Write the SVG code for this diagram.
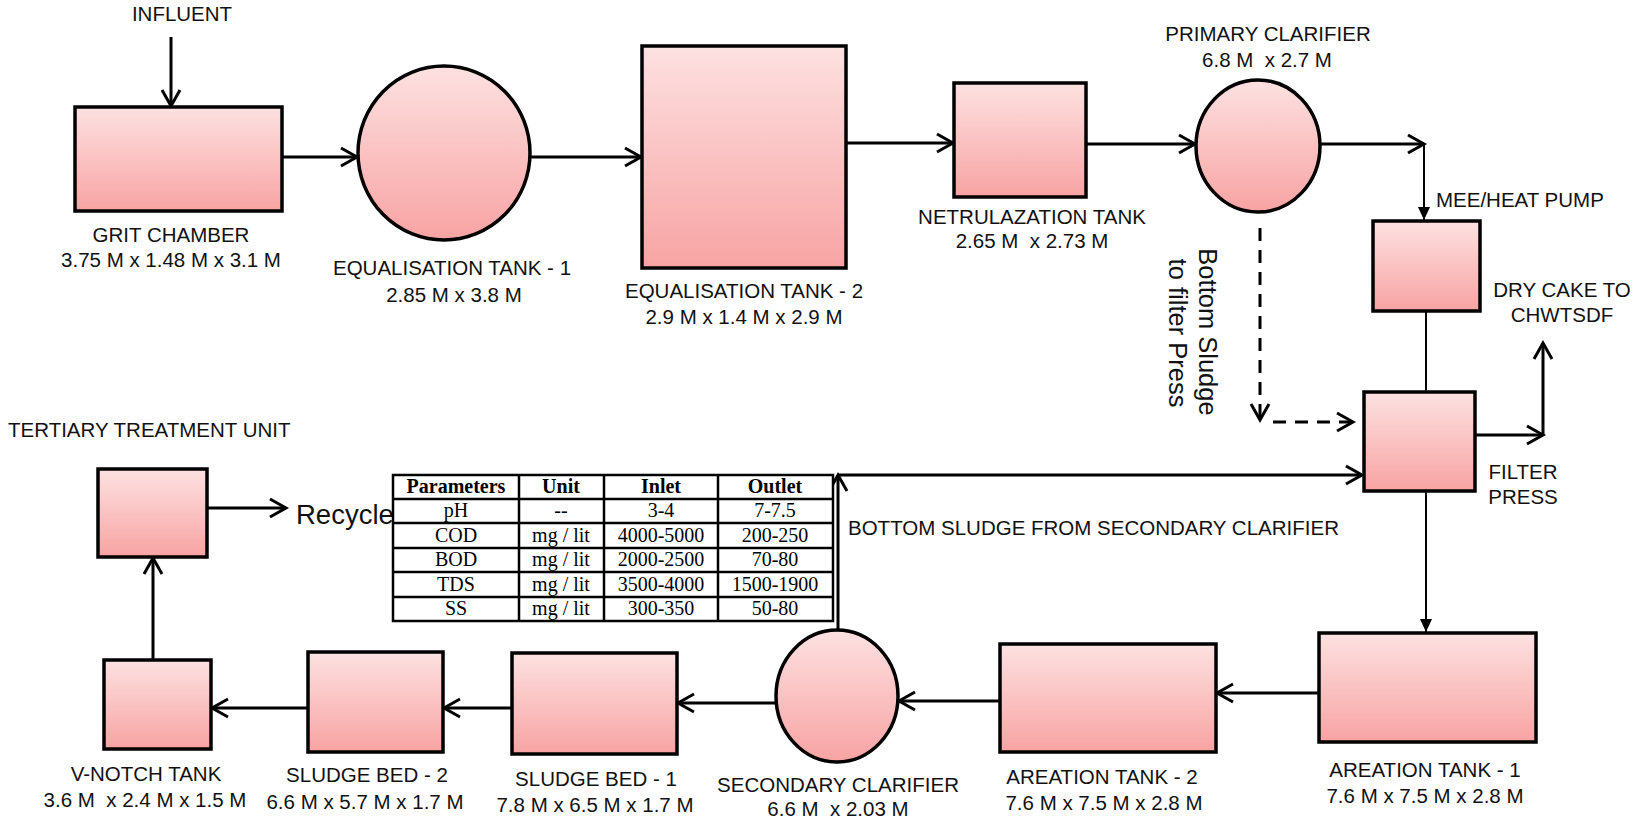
<svg xmlns="http://www.w3.org/2000/svg" width="1634" height="820" viewBox="0 0 1634 820">
<defs>
<linearGradient id="pink" x1="0" y1="0" x2="0" y2="1">
<stop offset="0" stop-color="#fde1e1"/>
<stop offset="1" stop-color="#f8a3a3"/>
</linearGradient>
<marker id="open" markerUnits="userSpaceOnUse" markerWidth="26" markerHeight="26" viewBox="-20 -13 26 26" refX="0" refY="0" orient="auto">
<path d="M-16,-9 L0,0 L-16,9" fill="none" stroke="#000" stroke-width="3"/>
</marker>
<marker id="solid" markerUnits="userSpaceOnUse" markerWidth="20" markerHeight="20" viewBox="-16 -10 20 20" refX="0" refY="0" orient="auto">
<path d="M-13,-6 L0,0 L-13,6 Z" fill="#000"/>
</marker>
<style>
.box{fill:url(#pink);stroke:#000;stroke-width:3.5}
.lbl{font-family:"Liberation Sans",Arial,sans-serif;font-size:20.5px;fill:#111;text-anchor:middle}
.ls{text-anchor:start}
.c{fill:none;stroke:#000;stroke-width:3}
.ca{fill:none;stroke:#000;stroke-width:3;marker-end:url(#open)}
.thin{fill:none;stroke:#000;stroke-width:2}
.dash{fill:none;stroke:#000;stroke-width:3;stroke-dasharray:13 9;marker-end:url(#open)}
.tb{fill:none;stroke:#000;stroke-width:2.5}
.th{font-family:"Liberation Serif","Times New Roman",serif;font-size:20px;font-weight:bold;text-anchor:middle;fill:#000}
.td{font-family:"Liberation Serif","Times New Roman",serif;font-size:20px;text-anchor:middle;fill:#000}
</style>
</defs>
<rect width="1634" height="820" fill="#fff"/>

<g id="connectors">
<path class="ca" d="M171,37 L171,106"/>
<path class="ca" d="M282,157 L357,157"/>
<path class="ca" d="M530,157 L641,157"/>
<path class="ca" d="M846,143 L953,143"/>
<path class="ca" d="M1086,144 L1195,144"/>
<path class="ca" d="M1320,144 L1424,144"/>
<path class="thin" d="M1424,144 L1424,220" marker-end="url(#solid)"/>
<path class="thin" d="M1426,311 L1426,392"/>
<path class="thin" d="M1426,491 L1426,632" marker-end="url(#solid)"/>
<path class="ca" d="M1475,435 L1543,435"/>
<path class="ca" d="M1543,435 L1543,343"/>
<path class="dash" d="M1260,228 L1260,420"/>
<path class="dash" d="M1273,422 L1353,422"/>
<path class="ca" d="M838,630 L838,475"/>
<path class="ca" d="M838,475 L1362,475"/>
<path class="ca" d="M1319,693 L1217,693"/>
<path class="ca" d="M1000,701 L899,701"/>
<path class="ca" d="M776,703 L678,703"/>
<path class="ca" d="M512,708 L444,708"/>
<path class="ca" d="M308,708 L212,708"/>
<path class="ca" d="M153,660 L153,558"/>
<path class="ca" d="M207,508 L286,508"/>
</g>

<g id="influent"><text class="lbl" x="182" y="21">INFLUENT</text></g>

<g id="grit-chamber">
<rect class="box" x="75" y="107" width="207" height="104"/>
<text class="lbl" x="171" y="242">GRIT CHAMBER</text>
<text class="lbl" x="171" y="267">3.75 M x 1.48 M x 3.1 M</text>
</g>

<g id="equalisation-1">
<ellipse class="box" cx="444" cy="153" rx="86" ry="87"/>
<text class="lbl" x="452" y="275">EQUALISATION TANK - 1</text>
<text class="lbl" x="454" y="302">2.85 M x 3.8 M</text>
</g>

<g id="equalisation-2">
<rect class="box" x="642" y="46" width="204" height="222"/>
<text class="lbl" x="744" y="298">EQUALISATION TANK - 2</text>
<text class="lbl" x="744" y="324">2.9 M x 1.4 M x 2.9 M</text>
</g>

<g id="neutralization">
<rect class="box" x="954" y="83" width="132" height="114"/>
<text class="lbl" x="1032" y="224">NETRULAZATION TANK</text>
<text class="lbl" x="1032" y="248">2.65 M&#160; x 2.73 M</text>
</g>

<g id="primary-clarifier">
<ellipse class="box" cx="1258" cy="146" rx="62" ry="66"/>
<text class="lbl" x="1268" y="41">PRIMARY CLARIFIER</text>
<text class="lbl" x="1267" y="67">6.8 M&#160; x 2.7 M</text>
</g>

<g id="mee-heat-pump">
<rect class="box" x="1373" y="221" width="107" height="90"/>
<text class="lbl ls" x="1436" y="207">MEE/HEAT PUMP</text>
</g>

<g id="dry-cake">
<text class="lbl" x="1562" y="297">DRY CAKE TO</text>
<text class="lbl" x="1562" y="322">CHWTSDF</text>
</g>

<g id="sludge-note">
<text class="lbl" style="font-size:25.5px" transform="translate(1199,332) rotate(90)">Bottom Sludge</text>
<text class="lbl" style="font-size:25.5px" transform="translate(1169,333) rotate(90)">to filter Press</text>
</g>

<g id="filter-press">
<rect class="box" x="1364" y="392" width="111" height="99"/>
<text class="lbl" x="1523" y="479">FILTER</text>
<text class="lbl" x="1523" y="504">PRESS</text>
</g>

<g id="bottom-sludge-label">
<text class="lbl ls" x="848" y="535">BOTTOM SLUDGE FROM SECONDARY CLARIFIER</text>
</g>

<g id="aeration-1">
<rect class="box" x="1319" y="633" width="217" height="109"/>
<text class="lbl" x="1425" y="777">AREATION TANK - 1</text>
<text class="lbl" x="1425" y="803">7.6 M x 7.5 M x 2.8 M</text>
</g>

<g id="aeration-2">
<rect class="box" x="1000" y="644" width="216" height="108"/>
<text class="lbl" x="1102" y="784">AREATION TANK - 2</text>
<text class="lbl" x="1104" y="810">7.6 M x 7.5 M x 2.8 M</text>
</g>

<g id="secondary-clarifier">
<ellipse class="box" cx="837" cy="696" rx="61" ry="66"/>
<text class="lbl" x="838" y="792">SECONDARY CLARIFIER</text>
<text class="lbl" x="838" y="816">6.6 M&#160; x 2.03 M</text>
</g>

<g id="sludge-bed-1">
<rect class="box" x="512" y="653" width="165" height="101"/>
<text class="lbl" x="596" y="786">SLUDGE BED - 1</text>
<text class="lbl" x="595" y="812">7.8 M x 6.5 M x 1.7 M</text>
</g>

<g id="sludge-bed-2">
<rect class="box" x="308" y="652" width="135" height="100"/>
<text class="lbl" x="367" y="782">SLUDGE BED - 2</text>
<text class="lbl" x="365" y="809">6.6 M x 5.7 M x 1.7 M</text>
</g>

<g id="v-notch-tank">
<rect class="box" x="104" y="660" width="107" height="89"/>
<text class="lbl" x="146" y="781">V-NOTCH TANK</text>
<text class="lbl" x="145" y="807">3.6 M&#160; x 2.4 M x 1.5 M</text>
</g>

<g id="tertiary-treatment">
<rect class="box" x="98" y="469" width="109" height="88"/>
<text class="lbl ls" x="8" y="437">TERTIARY TREATMENT UNIT</text>
<text class="lbl ls" style="font-size:27.5px" x="296" y="524">Recycle</text>
</g>

<g id="parameter-table">
<rect x="393" y="475" width="440" height="146" fill="#fff" stroke="#000" stroke-width="2.5"/>
<path class="tb" d="M393,499 H833 M393,523 H833 M393,548 H833 M393,572 H833 M393,597 H833 M519,475 V621 M604,475 V621 M718,475 V621"/>
<text class="th" x="456" y="493">Parameters</text>
<text class="th" x="561" y="493">Unit</text>
<text class="th" x="661" y="493">Inlet</text>
<text class="th" x="775" y="493">Outlet</text>
<text class="td" x="456" y="517">pH</text>
<text class="td" x="561" y="517">--</text>
<text class="td" x="661" y="517">3-4</text>
<text class="td" x="775" y="517">7-7.5</text>
<text class="td" x="456" y="542">COD</text>
<text class="td" x="561" y="542">mg / lit</text>
<text class="td" x="661" y="542">4000-5000</text>
<text class="td" x="775" y="542">200-250</text>
<text class="td" x="456" y="566">BOD</text>
<text class="td" x="561" y="566">mg / lit</text>
<text class="td" x="661" y="566">2000-2500</text>
<text class="td" x="775" y="566">70-80</text>
<text class="td" x="456" y="591">TDS</text>
<text class="td" x="561" y="591">mg / lit</text>
<text class="td" x="661" y="591">3500-4000</text>
<text class="td" x="775" y="591">1500-1900</text>
<text class="td" x="456" y="615">SS</text>
<text class="td" x="561" y="615">mg / lit</text>
<text class="td" x="661" y="615">300-350</text>
<text class="td" x="775" y="615">50-80</text>
</g>
</svg>
